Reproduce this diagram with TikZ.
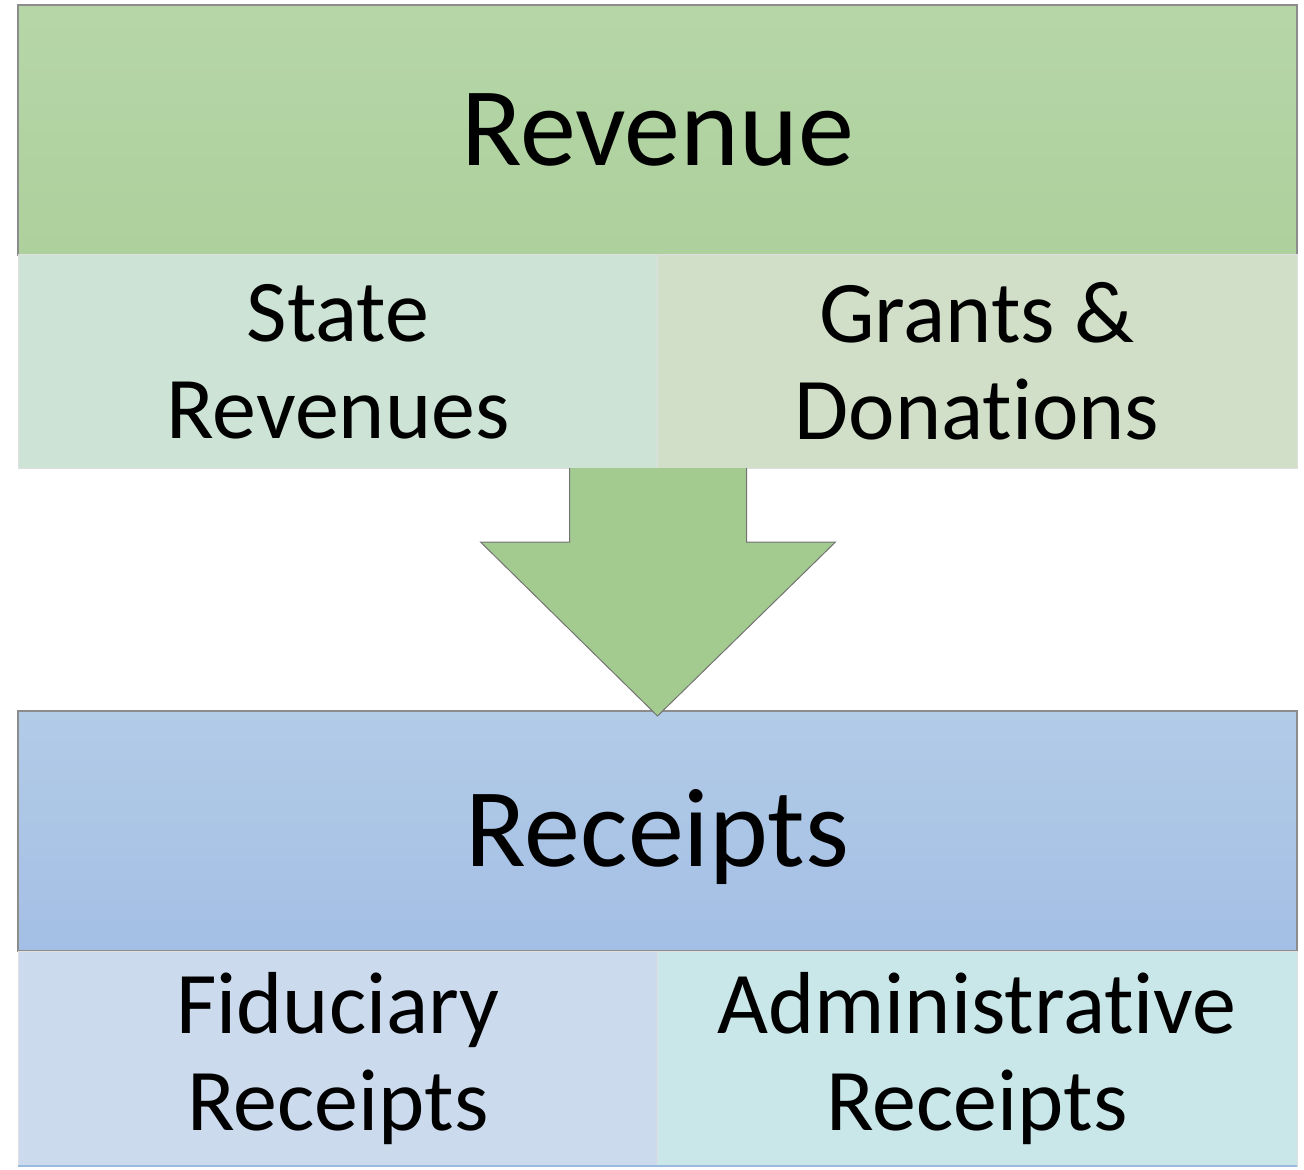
\documentclass[tikz,border=0pt]{standalone}
\usepackage{fontspec}
\setmainfont{Carlito}[RawFeature=-liga]
\usetikzlibrary{positioning,calc}

\definecolor{revtop}{HTML}{B6D6A8}
\definecolor{revbot}{HTML}{ADD09C}
\definecolor{stategrn}{HTML}{CDE3D5}
\definecolor{grantgrn}{HTML}{D1DFC8}
\definecolor{arrowgrn}{HTML}{A3CB8F}
\definecolor{rcptop}{HTML}{B2CBE7}
\definecolor{rcpbot}{HTML}{A4BFE5}
\definecolor{fidblue}{HTML}{CBDAEC}
\definecolor{admblue}{HTML}{C9E6E8}
\definecolor{edgeblue}{HTML}{9ABBE0}

\begin{document}
\begin{tikzpicture}[x=0.5pt,y=0.5pt]
        \tikzstyle{every node}=[inner sep=0pt,outer sep=0pt]

        \tikzstyle{head}=[draw=gray!90,line width=0.8pt,minimum width=639.5pt,minimum height=125pt,
            font=\fontsize{56}{62}\selectfont]
        \tikzstyle{part}=[draw=gray!25,line width=0.5pt,minimum width=320pt,minimum height=106.5pt,
            align=center,font=\fontsize{44}{48.5}\selectfont]

        \useasboundingbox (0,0) rectangle (1304,1169);

        % revenue block
        \node [head,top color=revtop,bottom color=revbot] (revenue) at (657.5,1039) {Revenue};
        \node [part,fill=stategrn,anchor=north west] (state) at (revenue.south west) {State\\Revenues};
        \node [part,fill=grantgrn,anchor=north east] (grants) at (revenue.south east) {Grants \&\\Donations};

        % receipts block
        \node [head,minimum height=120pt,top color=rcptop,bottom color=rcpbot] (receipts) at (657.5,338) {};
        \node at ($(receipts.center)+(0,-6)$) (receipts_label) [font=\fontsize{56}{62}\selectfont] {Receipts};
        \node [part,fill=fidblue,anchor=north west,minimum height=107.5pt] (fiduciary) at (receipts.south west) {Fiduciary\\Receipts};
        \node [part,fill=admblue,anchor=north east,minimum height=107.5pt] (admin) at (receipts.south east) {Administrative\\Receipts};
        \draw [edgeblue,line width=1.2pt] (fiduciary.south west) -- (admin.south east);

        % big arrow
        \coordinate (tip) at (receipts.north);
        \filldraw [fill=arrowgrn,draw=black!55,line width=0.5pt]
            ($(revenue.south)+(-88,-213)$) -- ($(revenue.south)+(-88,-287)$) -- ($(revenue.south)+(-177,-287)$)
            -- ($(tip)+(0,-5)$)
            -- ($(revenue.south)+(178,-287)$) -- ($(revenue.south)+(89,-287)$) -- ($(revenue.south)+(89,-213)$);

\end{tikzpicture}
\end{document}
